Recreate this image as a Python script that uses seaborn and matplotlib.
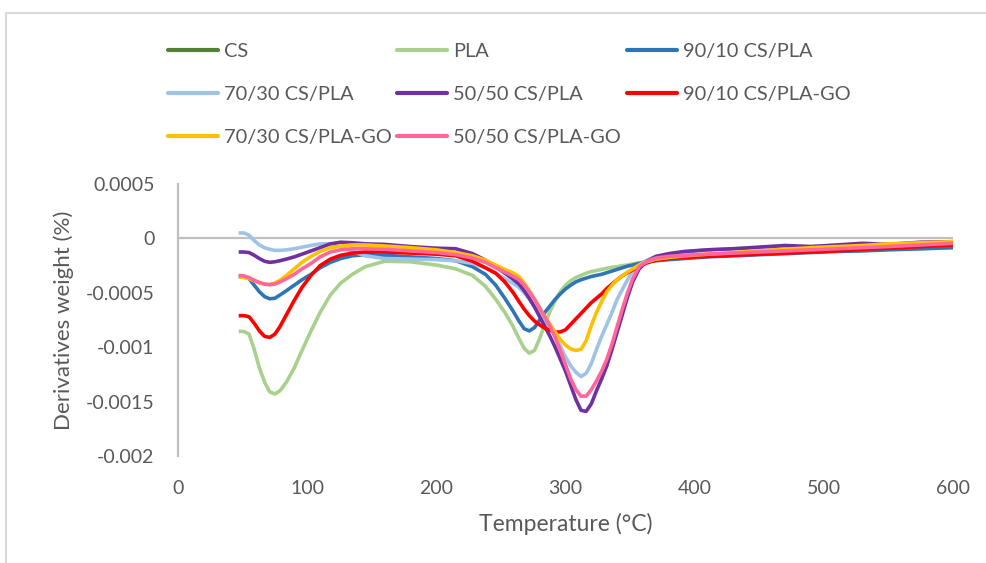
import matplotlib
matplotlib.use("Agg")
import numpy as np
import pandas as pd
import matplotlib.pyplot as plt
import seaborn as sns
from matplotlib.lines import Line2D
from matplotlib.patches import Rectangle

# ---------------- data (values in units of 1e-4 %) ----------------
SCALE = 1e-4
temperature = [47, 51, 55, 59, 63, 67, 71, 75, 79, 84, 90, 96, 103, 110, 118, 126,
               135, 145, 160, 180, 200, 215, 228,
               238, 246, 253, 259, 264, 268, 272, 276, 280, 284, 288, 292, 296, 300,
               304, 308, 312, 316, 320, 324, 328, 332, 336, 340, 344, 348, 352, 357,
               363, 370, 380,
               392, 410, 430, 450, 470, 490, 510, 530, 550, 575, 600]

cs = []  # series listed in the legend, no visible curve in the figure
pla = [-8.55, -8.55, -8.8, -10.2, -11.9, -13.2, -14.1, -14.3, -14.0, -13.2, -11.9, -10.3,
       -8.5, -6.8, -5.2, -4.1, -3.3, -2.6, -2.1, -2.15, -2.45, -2.8, -3.4,
       -4.4, -5.6, -6.8, -8.0, -9.2, -10.1, -10.55, -10.3, -9.2, -7.9, -6.7, -5.7, -4.9,
       -4.3, -3.9, -3.6, -3.4, -3.2, -3.05, -2.95, -2.85, -2.75, -2.65, -2.6, -2.5, -2.45,
       -2.35, -2.25, -2.15, -2.05, -1.9,
       -1.75, -1.6, -1.5, -1.4, -1.3, -1.2, -1.15, -1.1, -1.0, -0.95, -0.85]
cs_pla_90 = [-3.5, -3.5, -3.7, -4.3, -4.9, -5.35, -5.55, -5.5, -5.2, -4.8, -4.3, -3.8,
             -3.3, -2.7, -2.2, -1.85, -1.6, -1.5, -1.55, -1.7, -1.85, -2.05, -2.6,
             -3.3, -4.3, -5.5, -6.6, -7.6, -8.3, -8.5, -8.2, -7.5, -6.8, -6.2, -5.6, -5.1,
             -4.65, -4.3, -4.0, -3.8, -3.65, -3.5, -3.4, -3.3, -3.15, -3.0, -2.85, -2.7,
             -2.55, -2.45, -2.3, -2.15, -2.05, -1.95,
             -1.85, -1.7, -1.6, -1.5, -1.4, -1.3, -1.2, -1.15, -1.05, -0.95, -0.85]
cs_pla_70 = [0.5, 0.5, 0.3, -0.2, -0.6, -0.85, -1.0, -1.1, -1.1, -1.05, -0.95, -0.8,
             -0.65, -0.5, -0.5, -0.8, -1.2, -1.6, -1.85, -1.9, -1.95, -2.05, -2.3,
             -2.7, -3.2, -3.7, -4.1, -4.5, -5.0, -5.6, -6.3, -6.9, -7.5, -8.2, -9.0, -9.9,
             -10.9, -11.7, -12.3, -12.7, -12.4, -11.5, -10.2, -9.0, -7.9, -6.8, -5.6, -4.7,
             -3.8, -3.0, -2.45, -2.0, -1.7, -1.45,
             -1.25, -1.05, -0.95, -0.85, -0.8, -0.75, -0.7, -0.6, -0.55, -0.45, -0.35]
cs_pla_50 = [-1.25, -1.25, -1.3, -1.55, -1.85, -2.1, -2.2, -2.15, -2.05, -1.9, -1.7, -1.45,
             -1.15, -0.85, -0.5, -0.35, -0.4, -0.5, -0.55, -0.75, -0.9, -0.95, -1.4,
             -2.0, -2.6, -3.2, -3.7, -4.2, -4.8, -5.5, -6.3, -7.2, -8.1, -9.0, -10.0, -11.1,
             -12.2, -13.5, -14.8, -15.8, -15.9, -15.2, -14.0, -12.9, -11.7, -10.2, -8.6, -7.0,
             -5.4, -4.0, -2.8, -2.1, -1.65, -1.4,
             -1.2, -1.05, -0.95, -0.8, -0.65, -0.75, -0.6, -0.45, -0.55, -0.35, -0.3]
cs_pla_go_90 = [-7.1, -7.1, -7.2, -7.8, -8.5, -9.0, -9.1, -8.8, -8.1, -7.0, -5.7, -4.5,
                -3.4, -2.5, -1.9, -1.55, -1.35, -1.25, -1.25, -1.35, -1.45, -1.6, -2.1,
                -2.7, -3.2, -4.0, -4.9, -5.8, -6.5, -7.1, -7.6, -7.95, -8.25, -8.45, -8.6,
                -8.6, -8.4, -7.9, -7.4, -6.9, -6.4, -5.9, -5.5, -5.1, -4.6, -4.2, -3.8, -3.45,
                -3.15, -2.9, -2.55, -2.25, -2.0, -1.85,
                -1.75, -1.65, -1.55, -1.45, -1.35, -1.25, -1.15, -1.0, -0.9, -0.75, -0.6]
cs_pla_go_70 = [-3.55, -3.6, -3.7, -3.9, -4.1, -4.2, -4.25, -4.1, -3.85, -3.4, -2.8, -2.2,
                -1.65, -1.2, -0.85, -0.7, -0.6, -0.6, -0.7, -0.85, -1.05, -1.3, -1.6,
                -2.0, -2.45, -2.85, -3.15, -3.5, -4.1, -4.8, -5.6, -6.4, -7.2, -7.9, -8.6,
                -9.3, -9.8, -10.15, -10.3, -10.2, -9.4, -8.0, -6.8, -5.8, -4.9, -4.3, -3.8,
                -3.45, -3.1, -2.8, -2.45, -2.15, -1.9, -1.75,
                -1.6, -1.45, -1.3, -1.15, -1.0, -0.85, -0.75, -0.65, -0.5, -0.4, -0.3]
cs_pla_go_50 = [-3.4, -3.45, -3.6, -3.85, -4.05, -4.2, -4.25, -4.2, -4.0, -3.7, -3.3, -2.8,
                -2.3, -1.7, -1.25, -1.05, -0.95, -0.95, -1.0, -1.15, -1.3, -1.5, -1.8,
                -2.2, -2.7, -3.1, -3.45, -3.8, -4.3, -4.9, -5.6, -6.4, -7.2, -8.1, -9.1,
                -10.3, -11.6, -12.9, -13.9, -14.5, -14.5, -13.9, -13.1, -12.2, -11.1, -9.7,
                -8.1, -6.5, -5.0, -3.7, -2.6, -2.1, -1.8, -1.65,
                -1.55, -1.45, -1.35, -1.25, -1.15, -1.05, -0.95, -0.85, -0.75, -0.6, -0.45]

series_names = ["CS", "PLA", "90/10 CS/PLA", "70/30 CS/PLA", "50/50 CS/PLA",
                "90/10 CS/PLA-GO", "70/30 CS/PLA-GO", "50/50 CS/PLA-GO"]
series_values = [cs, pla, cs_pla_90, cs_pla_70, cs_pla_50,
                 cs_pla_go_90, cs_pla_go_70, cs_pla_go_50]
colors = ["#548235", "#A9D18E", "#2E75B6", "#9DC3E6", "#7030A0",
          "#FF0000", "#FFC000", "#FF6699"]

y_ticks = [0.0005, 0, -0.0005, -0.001, -0.0015, -0.002]
y_tick_labels = ["0.0005", "0", "-0.0005", "-0.001", "-0.0015", "-0.002"]
x_ticks = [0, 100, 200, 300, 400, 500, 600]
x_tick_labels = ["0", "100", "200", "300", "400", "500", "600"]

for name, vals in zip(series_names, series_values):
    if vals and len(vals) != len(temperature):
        raise ValueError(f"{name}: {len(vals)} values vs {len(temperature)} temperatures")

# ---------------- tidy frame ----------------
rows = []
for name, vals in zip(series_names, series_values):
    for t, v in zip(temperature, vals):
        rows.append({"Temperature": t, "Value": v * SCALE, "Series": name})
df = pd.DataFrame(rows)

# ---------------- plot ----------------
sns.set_theme(style="white")
plt.rcParams["font.family"] = ["Lato", "DejaVu Sans"]
TXT = "#595959"
AX = "#BFBFBF"

fig = plt.figure(figsize=(9.86, 5.63), dpi=100)
ax = fig.add_axes([178 / 986, 1 - 456 / 563, (953 - 178) / 986, (456 - 184) / 563])

ax.axhline(0, color=AX, lw=1.6, zorder=1)
palette = dict(zip(series_names, colors))
sns.lineplot(data=df, x="Temperature", y="Value", hue="Series",
             hue_order=series_names, palette=palette, linewidth=2.6,
             sort=False, estimator=None, legend=False, ax=ax, zorder=3)
for ln in ax.get_lines():
    ln.set_solid_joinstyle("round")
    ln.set_solid_capstyle("butt")

ax.set_xlim(0, 600)
ax.set_ylim(-0.002, 0.0005)
ax.set_xticks(x_ticks)
ax.set_xticklabels(x_tick_labels)
ax.set_yticks(y_ticks)
ax.set_yticklabels(y_tick_labels)
ax.tick_params(axis="x", length=0, pad=17, labelsize=14, labelcolor=TXT)
ax.tick_params(axis="y", length=0, pad=17, labelsize=14, labelcolor=TXT)
for s in ["top", "right", "bottom"]:
    ax.spines[s].set_visible(False)
ax.spines["left"].set_color(AX)
ax.spines["left"].set_linewidth(1.6)
ax.set_xlabel("Temperature (°C)", fontsize=16.5, color=TXT, labelpad=12)
ax.set_ylabel("Derivatives weight (%)", fontsize=16, color=TXT, labelpad=8)
ax.grid(False)

# legend: three columns, row-major order like the original
handles = [Line2D([0], [0], color=c, lw=3) for c in colors]
columns = [[0, 3, 6], [1, 4, 7], [2, 5]]
col_x = [168, 397, 627]
for idxs, cx in zip(columns, col_x):
    fig.legend([handles[i] for i in idxs], [series_names[i] for i in idxs],
               loc="upper left", bbox_to_anchor=(cx / 986, 1 - 43 / 563),
               ncol=1, frameon=False, fontsize=14.4, labelcolor=TXT,
               handlelength=2.5, handletextpad=0.3,
               labelspacing=1.3, borderaxespad=0, borderpad=0)

# outer chart-area frame
fig.add_artist(Rectangle((6 / 986, -0.2), 2.0, 1.2 - 13 / 563,
                         transform=fig.transFigure, fill=False,
                         edgecolor="#D9D9D9", lw=1.5))

fig.savefig("out.png", dpi=100)
